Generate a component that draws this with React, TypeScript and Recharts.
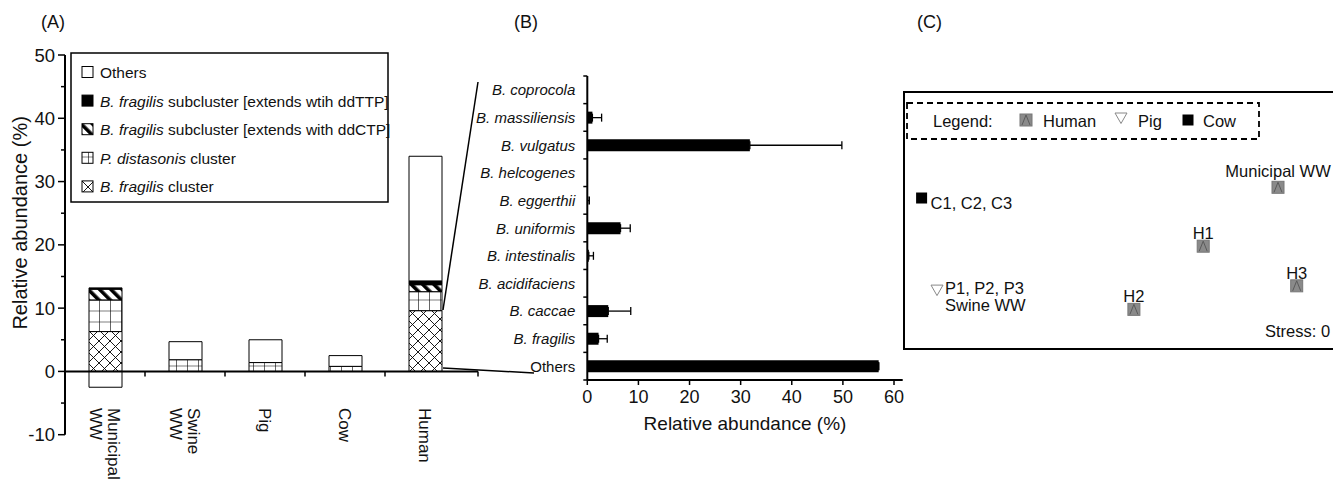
import React from 'react';
import {
  BarChart,
  Bar,
  XAxis,
  YAxis,
  ReferenceLine,
  ErrorBar,
  Label,
  ScatterChart,
  Scatter,
} from 'recharts';

const FONT = '"Liberation Sans", Arial, Helvetica, sans-serif';
const INK = '#111';

// (A) relative abundance of Bacteroidales clusters per source
const sources = ['Municipal WW', 'Swine WW', 'Pig', 'Cow', 'Human'];
const fragilisCluster = [6.3, 0, 0, 0, 9.6];
const distasonisCluster = [5.0, 1.85, 1.4, 0.8, 3.0];
const ctpSubcluster = [1.7, 0, 0, 0, 1.1];
const ttpSubcluster = [0.2, 0, 0, 0, 0.6];
const otherClusters = [-2.5, 2.85, 3.6, 1.7, 19.7];
const abundanceTicks = [-10, -5, 0, 5, 10, 15, 20, 25, 30, 35, 40, 45, 50];

// (B) species breakdown of the human samples
const humanSpecies = [
  'B. coprocola',
  'B. massiliensis',
  'B. vulgatus',
  'B. helcogenes',
  'B. eggerthii',
  'B. uniformis',
  'B. intestinalis',
  'B. acidifaciens',
  'B. caccae',
  'B. fragilis',
  'Others',
];
const speciesMean = [0, 1.0, 31.8, 0, 0.1, 6.5, 0.3, 0, 4.1, 2.2, 57.0];
const speciesSd = [0, 1.8, 18.0, 0, 0.3, 1.9, 0.9, 0, 4.4, 1.7, 0];
const percentTicks = [0, 10, 20, 30, 40, 50, 60];

// (C) NMDS ordination
const humanSamples = [
  { label: 'Municipal WW', x: 1.4, y: 0.31 },
  { label: 'H1', x: 0.72, y: -0.24 },
  { label: 'H2', x: 0.09, y: -0.83 },
  { label: 'H3', x: 1.57, y: -0.61 },
];
const pigSamples = [{ label: 'P1, P2, P3|Swine WW', x: -1.7, y: -0.65 }];
const cowSamples = [{ label: 'C1, C2, C3', x: -1.84, y: 0.21 }];

const seriesA = [
  { key: 'fragilis', sp: 'B. fragilis', rest: ' cluster', fill: 'url(#crossHatch)', values: fragilisCluster },
  { key: 'distasonis', sp: 'P. distasonis', rest: ' cluster', fill: 'url(#gridHatch)', values: distasonisCluster },
  { key: 'ctp', sp: 'B. fragilis', rest: ' subcluster [extends with ddCTP]', fill: 'url(#stripeHatch)', values: ctpSubcluster },
  { key: 'ttp', sp: 'B. fragilis', rest: ' subcluster [extends wtih ddTTP]', fill: '#000', values: ttpSubcluster },
  { key: 'others', sp: '', rest: 'Others', fill: '#fff', values: otherClusters },
];

const dataA = sources.map((name, i) => {
  const row: Record<string, any> = { name };
  seriesA.forEach((s) => (row[s.key] = s.values[i]));
  return row;
});

const dataB = humanSpecies.map((name, i) => ({
  name,
  mean: speciesMean[i],
  err: [0, speciesSd[i]],
}));

// layout of panel A (chart svg sits at page origin)
const A_W = 490;
const A_H = 481;
const A_TOP = 55;
const A_BOTTOM = 434.7;
const A_LEFT = 65;
const A_RIGHT = 478;
const A_PAD = 13;
const A_YAXIS_W = 45;
const A_ZERO = A_TOP + (50 / 60) * (A_BOTTOM - A_TOP);
const A_HALF_BAND = (A_RIGHT - A_PAD - A_LEFT) / sources.length / 2;

// layout of panel B
const B_X = 470;
const B_W = 440;
const B_TOP = 76;
const B_BOTTOM = 380;
const B_YAXIS_W = 110;
const B_XAXIS_H = 56;
const B_HALF_BAND = (B_BOTTOM - B_TOP) / humanSpecies.length / 2;

// layout of panel C
const C_X = 904;
const C_Y = 92;
const C_W = 440;
const C_H = 257;
const C_FONT = 16.5;

const AbundanceTick = (props: any) => {
  const { x, y, payload } = props;
  const major = payload.value % 10 === 0;
  return (
    <g>
      <line x1={x - (major ? 7 : 4)} x2={x} y1={y} y2={y} stroke="#000" strokeWidth={1.5} />
      {major && (
        <text x={x - 10} y={y} textAnchor="end" dominantBaseline="central" fontSize={18.5} fill={INK}>
          {payload.value}
        </text>
      )}
    </g>
  );
};

const SourceTick = (props: any) => {
  const { x, payload, index } = props;
  const tx = index === sources.length - 1 ? x + A_HALF_BAND + A_PAD : x + A_HALF_BAND;
  const lines = String(payload.value).split(' ');
  return (
    <g>
      <line x1={tx} x2={tx} y1={A_ZERO} y2={A_ZERO + 5} stroke="#000" strokeWidth={1.5} />
      <text transform={`translate(${x},408) rotate(90)`} fontSize={17} fill={INK} dominantBaseline="central">
        {lines.map((l, i) => (
          <tspan key={i} x={0} y={-((lines.length - 1) / 2 - i) * 18}>
            {l}
          </tspan>
        ))}
      </text>
    </g>
  );
};

const SpeciesTick = (props: any) => {
  const { x, y, payload, index } = props;
  const italic = payload.value !== 'Others';
  return (
    <g>
      <line x1={x - 4} x2={x} y1={y - B_HALF_BAND} y2={y - B_HALF_BAND} stroke="#000" strokeWidth={1.5} />
      {index === humanSpecies.length - 1 && (
        <line x1={x - 4} x2={x} y1={y + B_HALF_BAND} y2={y + B_HALF_BAND} stroke="#000" strokeWidth={1.5} />
      )}
      <text
        x={x - 12}
        y={y}
        textAnchor="end"
        dominantBaseline="central"
        fontSize={15}
        fontStyle={italic ? 'italic' : 'normal'}
        fill={INK}
      >
        {payload.value}
      </text>
    </g>
  );
};

const HumanMark = ({ cx, cy }: { cx: number; cy: number }) => (
  <g>
    <rect x={cx - 6} y={cy - 6} width={12} height={12} fill="#8a8a8a" stroke="#777" />
    <path d={`M${cx - 4},${cy + 5} L${cx},${cy - 5} L${cx + 4},${cy + 5}`} fill="none" stroke="#5a5a5a" />
  </g>
);
const PigMark = ({ cx, cy }: { cx: number; cy: number }) => (
  <path d={`M${cx - 6},${cy - 5} L${cx + 6},${cy - 5} L${cx},${cy + 5.5} Z`} fill="#fff" stroke="#888" />
);
const CowMark = ({ cx, cy }: { cx: number; cy: number }) => (
  <rect x={cx - 5.5} y={cy - 5.5} width={11} height={11} fill="#000" />
);

const humanShape = (p: any) => {
  const up = p.payload.label === 'Municipal WW' ? 10 : 7;
  return (
    <g>
      <HumanMark cx={p.cx} cy={p.cy} />
      <text x={p.cx} y={p.cy - up} textAnchor="middle" fontSize={C_FONT} fill={INK}>
        {p.payload.label}
      </text>
    </g>
  );
};
const pigShape = (p: any) => {
  const lines = String(p.payload.label).split('|');
  return (
    <g>
      <PigMark cx={p.cx} cy={p.cy} />
      {lines.map((l, i) => (
        <text key={i} x={p.cx + 8} y={p.cy + 4 + i * 17} fontSize={C_FONT} fill={INK}>
          {l}
        </text>
      ))}
    </g>
  );
};
const cowShape = (p: any) => (
  <g>
    <CowMark cx={p.cx} cy={p.cy} />
    <text x={p.cx + 9} y={p.cy + 11} fontSize={C_FONT} fill={INK}>
      {p.payload.label}
    </text>
  </g>
);

const Patterns = () => (
  <svg width={0} height={0} style={{ position: 'absolute' }}>
    <defs>
      <pattern id="crossHatch" patternUnits="userSpaceOnUse" width={11} height={11}>
        <rect width={11} height={11} fill="#fff" />
        <path d="M0,0 L11,11 M11,0 L0,11" stroke="#000" strokeWidth={0.9} />
      </pattern>
      <pattern id="gridHatch" patternUnits="userSpaceOnUse" x={0} y={2.5} width={11} height={11}>
        <rect width={11} height={11} fill="#fff" />
        <path d="M0,0 H11 M0,0 V11" stroke="#000" strokeWidth={1.2} />
      </pattern>
      <pattern id="stripeHatch" patternUnits="userSpaceOnUse" width={8} height={8} patternTransform="rotate(-45)">
        <rect width={8} height={8} fill="#fff" />
        <rect width={3.6} height={8} fill="#000" />
      </pattern>
    </defs>
  </svg>
);

export default function App() {
  const legendRows = [...seriesA].reverse();
  return (
    <div
      style={{
        position: 'absolute',
        left: 0,
        top: 0,
        width: 1333,
        height: 481,
        overflow: 'hidden',
        background: '#fff',
        fontFamily: FONT,
      }}
    >
      <Patterns />

      {/* (A) */}
      <div style={{ position: 'absolute', left: 0, top: 0 }}>
        <BarChart
          width={A_W}
          height={A_H}
          data={dataA}
          stackOffset="sign"
          barSize={33}
          margin={{ top: A_TOP, bottom: A_H - A_BOTTOM - 30, left: A_LEFT - A_YAXIS_W, right: A_W - A_RIGHT }}
          style={{ fontFamily: FONT }}
        >
          <XAxis
            dataKey="name"
            type="category"
            height={30}
            padding={{ left: 0, right: A_PAD }}
            axisLine={false}
            tickLine={false}
            tickSize={0}
            tickMargin={0}
            interval={0}
            tick={<SourceTick />}
          />
          <YAxis
            type="number"
            domain={[-10, 50]}
            ticks={abundanceTicks}
            interval={0}
            width={A_YAXIS_W}
            axisLine={{ stroke: '#000', strokeWidth: 2 }}
            tickLine={false}
            tickSize={0}
            tickMargin={0}
            tick={<AbundanceTick />}
          >
            <Label
              content={(p: any) => {
                const vb = p.viewBox;
                const cx = 20;
                const cy = vb.y + vb.height / 2 - 22;
                return (
                  <text
                    x={cx}
                    y={cy}
                    transform={`rotate(-90,${cx},${cy})`}
                    textAnchor="middle"
                    dominantBaseline="central"
                    fontSize={20}
                    fill={INK}
                  >
                    Relative abundance (%)
                  </text>
                );
              }}
            />
          </YAxis>
          {seriesA.map((s) => (
            <Bar
              key={s.key}
              dataKey={s.key}
              stackId="src"
              fill={s.fill}
              stroke="#000"
              strokeWidth={1}
              isAnimationActive={false}
            />
          ))}
          <ReferenceLine y={0} stroke="#000" strokeWidth={2} />
        </BarChart>
      </div>

      {/* (B) */}
      <div style={{ position: 'absolute', left: B_X, top: 0 }}>
        <BarChart
          width={B_W}
          height={A_H}
          data={dataB}
          layout="vertical"
          barSize={12}
          margin={{
            top: B_TOP,
            bottom: A_H - B_BOTTOM - B_XAXIS_H,
            left: 587.3 - B_X - B_YAXIS_W,
            right: B_X + B_W - 902.7,
          }}
          style={{ fontFamily: FONT }}
        >
          <XAxis
            type="number"
            domain={[0, 61.7]}
            ticks={percentTicks}
            interval={0}
            height={B_XAXIS_H}
            axisLine={{ stroke: '#000', strokeWidth: 2 }}
            tickLine={{ stroke: '#000', strokeWidth: 1.5 }}
            tickSize={5}
            tickMargin={5}
            tick={{ fill: INK, fontSize: 18 }}
          >
            <Label value="Relative abundance (%)" position="insideBottom" offset={6} fontSize={19} fill={INK} />
          </XAxis>
          <YAxis
            type="category"
            dataKey="name"
            width={B_YAXIS_W}
            interval={0}
            axisLine={{ stroke: '#000', strokeWidth: 2 }}
            tickLine={false}
            tickSize={0}
            tickMargin={0}
            tick={<SpeciesTick />}
          />
          <Bar dataKey="mean" fill="#000" isAnimationActive={false}>
            <ErrorBar dataKey="err" direction="x" width={4} stroke="#000" strokeWidth={1.3} />
          </Bar>
        </BarChart>
      </div>

      {/* (C) */}
      <div style={{ position: 'absolute', left: C_X, top: C_Y }}>
        <ScatterChart width={C_W} height={C_H} margin={{ top: 0, bottom: 0, left: 0, right: 0 }} style={{ fontFamily: FONT }}>
          <XAxis type="number" dataKey="x" domain={[-2, 2]} hide />
          <YAxis type="number" dataKey="y" domain={[-1.2, 1.2]} hide />
          <Scatter name="Human" data={humanSamples} shape={humanShape} isAnimationActive={false} />
          <Scatter name="Pig" data={pigSamples} shape={pigShape} isAnimationActive={false} />
          <Scatter name="Cow" data={cowSamples} shape={cowShape} isAnimationActive={false} />
        </ScatterChart>
      </div>

      {/* annotations */}
      <svg
        width={1333}
        height={481}
        style={{ position: 'absolute', left: 0, top: 0, pointerEvents: 'none', fontFamily: FONT }}
      >
        <text x={41} y={28} fontSize={18} fill={INK}>(A)</text>
        <text x={514} y={28} fontSize={18} fill={INK}>(B)</text>
        <text x={917} y={28} fontSize={18} fill={INK}>(C)</text>

        {/* zoom lines from Human bar to panel B */}
        <line x1={443} y1={310} x2={478} y2={82} stroke="#000" strokeWidth={1.5} />
        <line x1={443} y1={368} x2={534} y2={373} stroke="#000" strokeWidth={1.5} />

        {/* legend A */}
        <rect x={71} y={53} width={317} height={149} fill="#fff" stroke="#000" strokeWidth={1.5} />
        {legendRows.map((s, i) => {
          const cy = 72 + i * 28.6;
          return (
            <g key={s.key}>
              <rect x={82} y={cy - 5.5} width={11} height={11} fill={s.fill} stroke="#000" strokeWidth={1} />
              <text x={100} y={cy} dominantBaseline="central" fontSize={15.5} fill={INK}>
                {s.sp && <tspan fontStyle="italic">{s.sp}</tspan>}
                <tspan>{s.rest}</tspan>
              </text>
            </g>
          );
        })}

        {/* panel C frame and legend */}
        <rect x={C_X} y={C_Y} width={C_W + 40} height={C_H} fill="none" stroke="#000" strokeWidth={2} />
        <rect
          x={907}
          y={103}
          width={352}
          height={36}
          fill="none"
          stroke="#000"
          strokeWidth={1.8}
          strokeDasharray="6 4"
        />
        <text x={933} y={127} fontSize={C_FONT} fill={INK}>Legend:</text>
        <HumanMark cx={1026} cy={120} />
        <text x={1043} y={127} fontSize={C_FONT} fill={INK}>Human</text>
        <PigMark cx={1121} cy={118} />
        <text x={1138} y={127} fontSize={C_FONT} fill={INK}>Pig</text>
        <CowMark cx={1188} cy={120} />
        <text x={1203} y={127} fontSize={C_FONT} fill={INK}>Cow</text>
        <text x={1265} y={337} fontSize={C_FONT} fill={INK}>Stress: 0</text>
      </svg>
    </div>
  );
}
